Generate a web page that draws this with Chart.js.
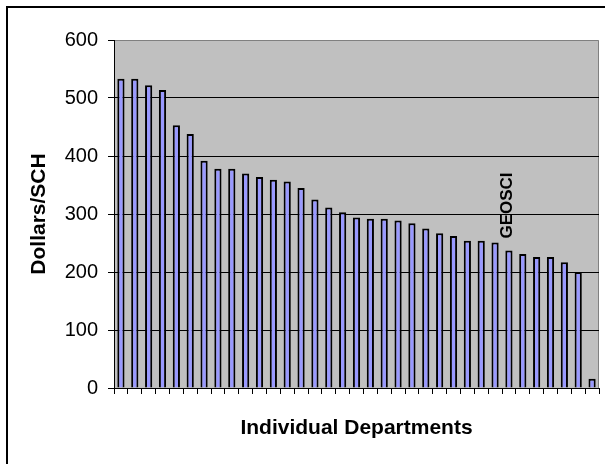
<!DOCTYPE html>
<html>
<head>
<meta charset="utf-8">
<script src="https://cdn.jsdelivr.net/npm/chart.js@4/dist/chart.umd.min.js"></script>
<style>
  html, body { margin: 0; padding: 0; background: #fff; }
  #frame { position: absolute; left: 6px; top: 6px; width: 605px; height: 464px;
           border-left: 2px solid #000; border-top: 2px solid #000; }
  #wrap { position: absolute; left: 0; top: 0; width: 605px; height: 464px; }
</style>
</head>
<body>
<div id="frame"></div>
<div id="wrap"><canvas id="deptChart" width="605" height="464"></canvas></div>
<script>
// Cost per student credit hour, one bar per department (sorted high to low)
const departments = Array.from({length: 35}, (_, i) => 'Dept ' + (i + 1));
const dollarsPerSCH = [533, 533, 522, 514, 453, 438, 392, 378, 378, 370,
                       364, 359, 356, 345, 325, 311, 303, 294, 292, 292,
                       289, 284, 275, 267, 262, 254, 254, 251, 237, 231,
                       226, 226, 217, 200, 16];
const yTicks = [0, 100, 200, 300, 400, 500, 600];
const highlightIndex = 28;
const highlightLabel = 'GEOSCI';

const FONT = "'Liberation Sans', Arial, sans-serif";

// gray plot area like the old Excel default
const plotArea = {
    id: 'plotArea',
    beforeDraw(chart) {
        const {ctx, chartArea: a} = chart;
        ctx.save();
        ctx.fillStyle = '#C0C0C0';
        ctx.fillRect(a.left, a.top, a.right - a.left, a.bottom - a.top);
        ctx.strokeStyle = '#808080';
        ctx.lineWidth = 1;
        ctx.beginPath();
        ctx.moveTo(a.left, a.top + 0.5);
        ctx.lineTo(a.right - 0.5, a.top + 0.5);
        ctx.lineTo(a.right - 0.5, a.bottom);
        ctx.stroke();
        ctx.restore();
    }
};

// vertical label over the highlighted department
const highlight = {
    id: 'highlight',
    afterDatasetsDraw(chart) {
        const {ctx, scales} = chart;
        const x = scales.x.getPixelForValue(highlightIndex) - 2;
        const y = scales.y.getPixelForValue(dollarsPerSCH[highlightIndex]) - 12;
        ctx.save();
        ctx.translate(x, y);
        ctx.rotate(-Math.PI / 2);
        ctx.font = 'bold 17px ' + FONT;
        ctx.fillStyle = '#000';
        ctx.textAlign = 'left';
        ctx.textBaseline = 'middle';
        ctx.fillText(highlightLabel, 0, 0);
        ctx.restore();
    }
};

const ctx = document.getElementById('deptChart').getContext('2d');
new Chart(ctx, {
    type: 'bar',
    data: {
        labels: departments,
        datasets: [{
            data: dollarsPerSCH,
            backgroundColor: '#9999FF',
            borderColor: '#000',
            borderWidth: 2,
            barPercentage: 0.52,
            categoryPercentage: 1
        }]
    },
    options: {
        responsive: false,
        animation: false,
        layout: { padding: { left: 27, top: 40, right: 6, bottom: 23 } },
        plugins: {
            legend: { display: false },
            tooltip: { enabled: false }
        },
        scales: {
            x: {
                offset: true,
                afterFit: s => { s.height = 53; },
                grid: {
                    offset: true,
                    drawOnChartArea: false,
                    drawTicks: true,
                    tickLength: 6,
                    color: '#000'
                },
                border: { color: '#000', width: 1 },
                ticks: { display: false },
                title: {
                    display: true,
                    text: 'Individual Departments',
                    color: '#000',
                    padding: 0,
                    font: { family: FONT, size: 21, weight: 'bold' }
                }
            },
            y: {
                min: 0,
                max: 600,
                afterFit: s => { s.width = 87; },
                afterBuildTicks: s => { s.ticks = yTicks.map(v => ({value: v})); },
                grid: {
                    color: c => (c.tick && c.tick.value === 600) ? 'rgba(0,0,0,0)' : '#000',
                    tickColor: '#000',
                    tickLength: 6
                },
                border: { color: '#000', width: 1 },
                ticks: {
                    color: '#000',
                    padding: 10,
                    font: { family: FONT, size: 20 }
                },
                title: {
                    display: true,
                    text: 'Dollars/SCH',
                    color: '#000',
                    padding: 0,
                    font: { family: FONT, size: 21, weight: 'bold' }
                }
            }
        }
    },
    plugins: [plotArea, highlight]
});
</script>
</body>
</html>
